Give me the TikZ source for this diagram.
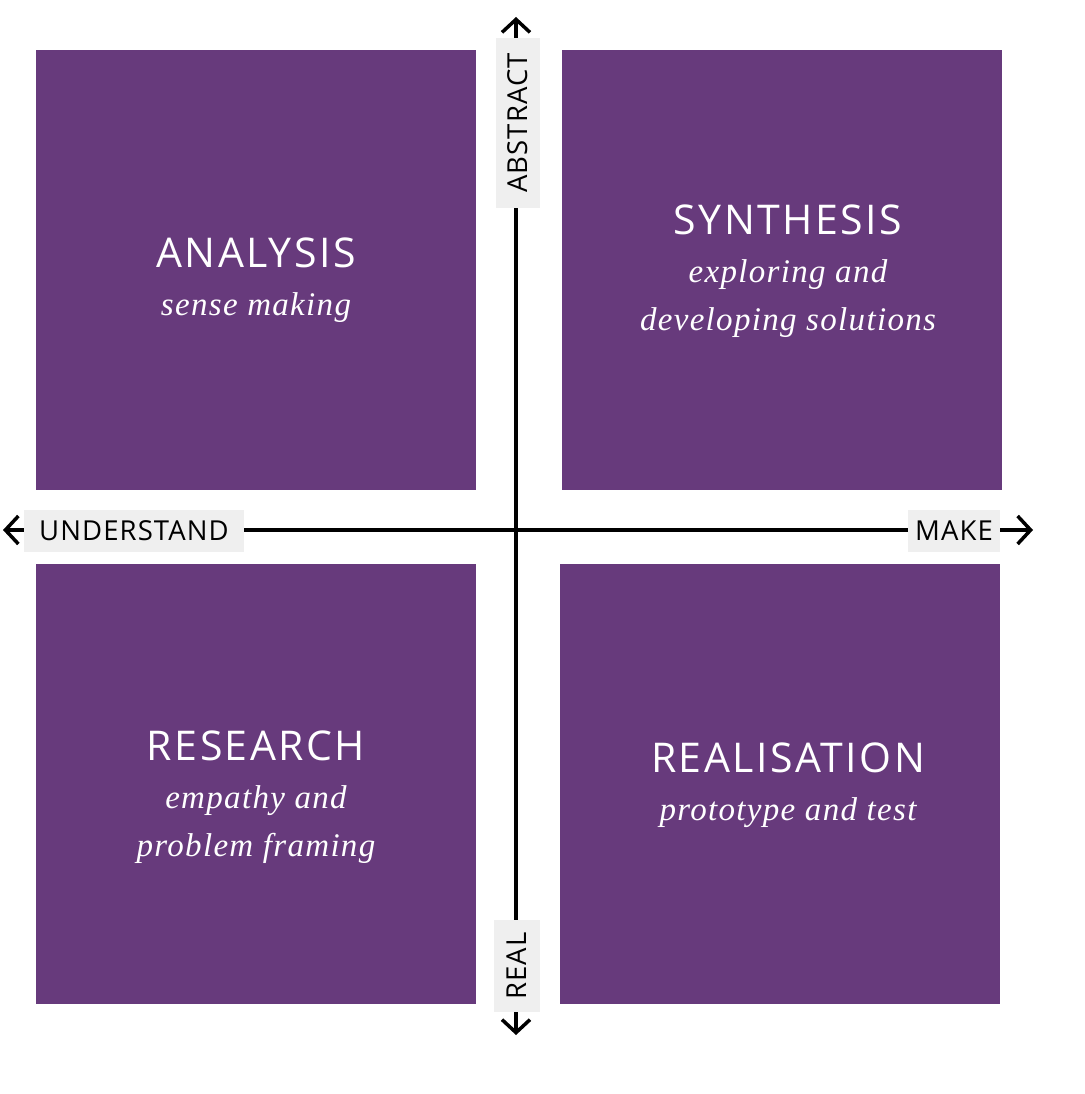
\documentclass[tikz,border=0pt]{standalone}
\usepackage{fontspec}
\usetikzlibrary{arrows.meta}
\newfontfamily\titlefont[LetterSpace=6]{Open Sans}
\newfontfamily\subfont[LetterSpace=4]{Liberation Serif}
\newfontfamily\axfont[LetterSpace=4]{Open Sans}
\definecolor{quadpurple}{HTML}{673A7C}
\definecolor{labelgrey}{HTML}{EFEFEF}
\tikzset{
  quad/.style={fill=quadpurple, draw=none, minimum width=440pt, minimum height=440pt, inner sep=0pt},
  quadtext/.style={text=white, align=center, inner sep=0pt, font=\fontsize{33}{48}\selectfont},
  axlabel/.style={fill=labelgrey, text=black, inner sep=0pt, font=\axfont\fontsize{27.5}{28}\selectfont},
  axisline/.style={line width=3.5pt, -{Straight Barb[length=13pt,width=28pt,line width=3.5pt]}}
}
\newcommand{\qtitle}[1]{{\titlefont\fontsize{41}{48}\selectfont #1}}
\newcommand{\qsub}[1]{{\subfont\itshape\fontsize{33}{48}\selectfont #1}}
\begin{document}
\begin{tikzpicture}[x=1pt,y=-1pt]
\useasboundingbox (0,0) rectangle (1084,1094);
% quadrants
\node[quad] (analysis) at (256,270) {};
\node[quad] (synthesis) at (782,270) {};
\node[quad] (research) at (256,784) {};
\node[quad] (realisation) at (780,784) {};
% axes
\coordinate (centre) at (516,530);
\coordinate (top) at (516,17);
\coordinate (bottom) at (516,1035);
\coordinate (left) at (3,530);
\coordinate (right) at (1033,530);
\draw[axisline] (centre) -- (top);
\draw[axisline] (centre) -- (bottom);
\draw[axisline] (centre) -- (left);
\draw[axisline] (centre) -- (right);
% axis labels
\node[axlabel, rotate=90, minimum width=170pt, minimum height=44pt] (abstract) at (518,123) {ABSTRACT};
\node[axlabel, rotate=90, minimum width=92pt, minimum height=46pt] (real) at (517,966) {REAL};
\node[axlabel, minimum width=220pt, minimum height=42pt] (understand) at (134,531) {UNDERSTAND};
\node[axlabel, minimum width=92pt, minimum height=42pt] (make) at (954,531) {MAKE};
% quadrant texts
\node[quadtext] (analysisT) at (256,280) {\qtitle{ANALYSIS}\\\qsub{sense making}};
\node[quadtext] (synthesisT) at (788,271) {\qtitle{SYNTHESIS}\\\qsub{exploring and}\\\qsub{developing solutions}};
\node[quadtext] (researchT) at (256,797) {\qtitle{RESEARCH}\\\qsub{empathy and}\\\qsub{problem framing}};
\node[quadtext] (realisationT) at (788,785) {\qtitle{REALISATION}\\\qsub{prototype and test}};
\end{tikzpicture}
\end{document}
